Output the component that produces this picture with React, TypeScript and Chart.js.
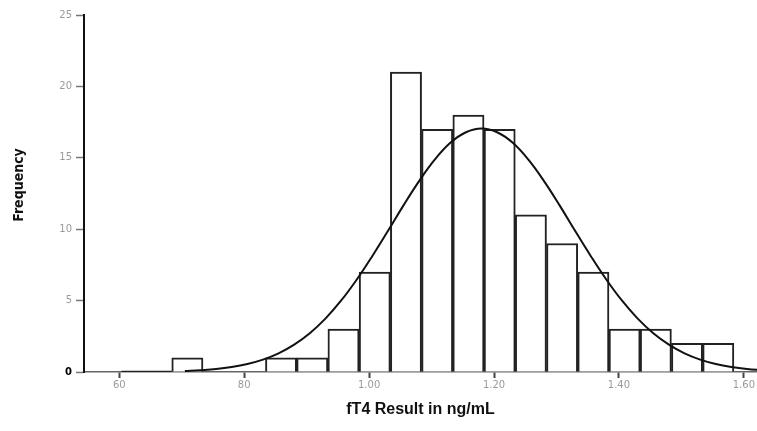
import React, { useEffect, useRef } from "react";
import { Chart, registerables } from "chart.js";

Chart.register(...registerables);

// Histogram bins (centre of each bin, fT4 in ng/mL) and counts
const binCenters = [0.609, 0.659, 0.709, 0.759, 0.809, 0.859, 0.909, 0.959, 1.009, 1.059, 1.109, 1.159, 1.209, 1.259, 1.309, 1.359, 1.409, 1.459, 1.509, 1.559];
const binCounts = [0, 0, 1, 0, 0, 1, 1, 3, 7, 21, 17, 18, 17, 11, 9, 7, 3, 3, 2, 2];

// Empty bins at the far left, drawn as a flat line on zero
const emptyBinX = [0.6035, 0.684];
const emptyBinY = [0, 0];

// Fitted normal curve
const curveX = [0.705, 0.73, 0.755, 0.78, 0.805, 0.83, 0.855, 0.88, 0.905, 0.93, 0.955, 0.98, 1.005, 1.03, 1.055, 1.08, 1.105, 1.13, 1.155, 1.18, 1.205, 1.23, 1.255, 1.28, 1.305, 1.33, 1.355, 1.38, 1.405, 1.43, 1.455, 1.48, 1.505, 1.53, 1.555, 1.58, 1.605, 1.63];
const curveY = [0.07, 0.13, 0.21, 0.35, 0.56, 0.87, 1.31, 1.92, 2.72, 3.74, 4.99, 6.46, 8.11, 9.87, 11.67, 13.37, 14.87, 16.05, 16.79, 17.05, 16.79, 16.05, 14.87, 13.37, 11.67, 9.87, 8.11, 6.46, 4.99, 3.74, 2.72, 1.92, 1.31, 0.87, 0.56, 0.35, 0.21, 0.13];

const xTickValues = [0.6, 0.8, 1.0, 1.2, 1.4, 1.6];
const xTickLabels = ["60", "80", "1.00", "1.20", "1.40", "1.60"];
const yTickValues = [0, 5, 10, 15, 20, 25];
const yTitle = "Frequency";
const xTitle = "fT4 Result in ng/mL";

const yTitlePlugin = {
  id: "yTitlePlugin",
  afterDraw(chart: any) {
    const ctx = chart.ctx;
    ctx.save();
    ctx.translate(19, 185);
    ctx.rotate(-Math.PI / 2);
    ctx.font = "bold 14px 'Liberation Sans Narrow', 'DejaVu Sans Condensed', 'DejaVu Sans'";
    ctx.fillStyle = "#111";
    ctx.textAlign = "center";
    ctx.textBaseline = "middle";
    ctx.fillText(yTitle, 0, 0);
    ctx.restore();
  },
};

export default function App() {
  const ref = useRef<HTMLCanvasElement | null>(null);

  useEffect(() => {
    document.body.style.margin = "0";
    const canvas = ref.current;
    if (!canvas) return;
    const chart = new Chart(canvas, {
      type: "bar",
      data: {
        datasets: [
          {
            type: "line",
            label: "Normal",
            data: curveX.map((x, i) => ({ x, y: curveY[i] })),
            borderColor: "#111",
            borderWidth: 2,
            pointRadius: 0,
            tension: 0.4,
            fill: false,
            order: 0,
          } as any,
          {
            type: "line",
            label: "Empty bins",
            data: emptyBinX.map((x, i) => ({ x, y: emptyBinY[i] })),
            borderColor: "#222",
            borderWidth: 2.5,
            pointRadius: 0,
            fill: false,
            order: 0,
          } as any,
          {
            type: "bar",
            label: "Frequency",
            data: binCenters.map((x, i) => ({ x, y: binCounts[i] })),
            backgroundColor: "#ffffff",
            borderColor: "#222",
            borderWidth: 2,
            barPercentage: 1,
            categoryPercentage: 1,
            order: 1,
          } as any,
        ],
      },
      plugins: [yTitlePlugin],
      options: {
        animation: false,
        responsive: false,
        maintainAspectRatio: false,
        layout: { padding: { top: 15, right: 0, left: 0, bottom: 0 } },
        plugins: { legend: { display: false }, tooltip: { enabled: false } },
        scales: {
          x: {
            type: "linear",
            offset: false,
            min: 0.5435,
            max: 1.621,
            afterBuildTicks: (scale: any) => {
              scale.ticks = xTickValues.map((v) => ({ value: v }));
            },
            afterFit: (scale: any) => {
              scale.height = 59;
              scale.paddingLeft = 0;
              scale.paddingRight = 0;
            },
            ticks: {
              autoSkip: false,
              maxRotation: 0,
              padding: 1,
              color: "#9a9a9a",
              font: { family: "DejaVu Sans", size: 10 },
              callback: (v: any) => {
                const i = xTickValues.findIndex((t) => Math.abs(t - Number(v)) < 1e-6);
                return i >= 0 ? xTickLabels[i] : "";
              },
            },
            grid: {
              offset: false,
              drawOnChartArea: false,
              drawTicks: true,
              tickLength: 6,
              tickColor: "#444",
              tickWidth: 2,
            },
            border: { display: true, color: "#666", width: 1.5 },
            title: {
              display: true,
              text: xTitle,
              color: "#111",
              font: { family: "Liberation Sans, Arial", size: 16, weight: "bold" },
              padding: { top: 0, bottom: 12 },
            },
          },
          y: {
            min: 0,
            max: 25,
            afterBuildTicks: (scale: any) => {
              scale.ticks = yTickValues.map((v) => ({ value: v }));
            },
            afterFit: (scale: any) => {
              scale.width = 84;
            },
            ticks: {
              padding: 4,
              color: (c: any) => (c.tick && c.tick.value === 0 ? "#000" : "#9a9a9a"),
              font: (c: any) => ({
                family: "DejaVu Sans",
                size: 10,
                weight: c.tick && c.tick.value === 0 ? "bold" : "normal",
              }),
            },
            grid: {
              drawOnChartArea: false,
              drawTicks: true,
              tickLength: 8,
              tickColor: "#777",
              tickWidth: 1.5,
            },
            border: { display: true, color: "#111", width: 2 },
            title: { display: false },
          },
        },
      },
    });
    return () => chart.destroy();
  }, []);

  return (
    <div style={{ width: 757, height: 431, background: "#fff" }}>
      <canvas ref={ref} width={757} height={431} style={{ display: "block", width: 757, height: 431 }} />
    </div>
  );
}
